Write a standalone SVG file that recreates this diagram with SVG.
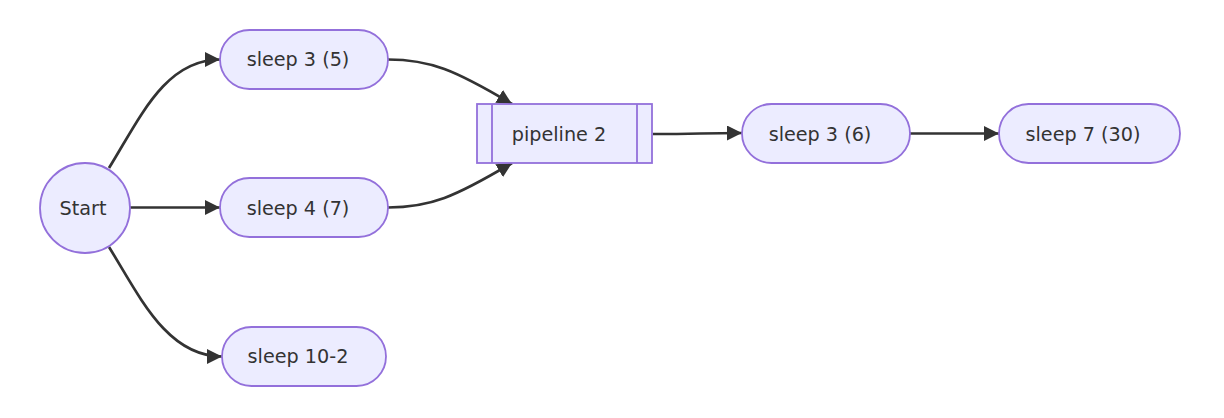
<svg xmlns="http://www.w3.org/2000/svg" width="1224" height="418" viewBox="0 0 1224 418">
<defs>
<style>
.node rect,.node circle{fill:#ECECFF;stroke:#9370DB;stroke-width:1.8}
.node line{stroke:#9370DB;stroke-width:1.8}
.label{font-family:"DejaVu Sans",Verdana,sans-serif;font-size:19.2px;fill:#333333;text-anchor:middle}
.edge{fill:none;stroke:#333333;stroke-width:2.7;marker-end:url(#arrow)}
</style>
<marker id="arrow" viewBox="0 0 10 10" refX="10" refY="5" markerUnits="userSpaceOnUse" markerWidth="15" markerHeight="15" orient="auto">
<path d="M0,0 L10,5 L0,10 z" fill="#333333"/>
</marker>
</defs>
<rect width="1224" height="418" fill="#ffffff"/>
<g id="connectors">
<path class="edge" d="M109,168 C140,118 165,59.5 220,59.5"/>
<path class="edge" d="M130,207.5 L220,207.5"/>
<path class="edge" d="M109,247 C140,297 167,356.5 222,356.5"/>
<path class="edge" d="M388,59.5 C430,59.5 455,70 512,104"/>
<path class="edge" d="M388,207.5 C430,207.5 455,197 512,163"/>
<path class="edge" d="M653,134 C700,134 700,133 742,133"/>
<path class="edge" d="M910,133.5 L999,133.5"/>
</g>
<g id="start" class="node">
<circle cx="85" cy="208" r="45"/>
<text class="label" x="83" y="215">Start</text>
</g>
<g id="sleep35" class="node">
<rect x="220" y="30" width="168" height="59" rx="29.5" ry="29.5"/>
<text class="label" x="298" y="66">sleep 3 (5)</text>
</g>
<g id="sleep47" class="node">
<rect x="220" y="178" width="168" height="59" rx="29.5" ry="29.5"/>
<text class="label" x="298" y="214.5">sleep 4 (7)</text>
</g>
<g id="sleep102" class="node">
<rect x="222" y="327" width="164" height="59" rx="29.5" ry="29.5"/>
<text class="label" x="298" y="363">sleep 10-2</text>
</g>
<g id="pipeline2" class="node">
<rect x="477" y="104" width="175" height="59"/>
<line x1="492" y1="104" x2="492" y2="163"/>
<line x1="637" y1="104" x2="637" y2="163"/>
<text class="label" x="559" y="140.5">pipeline 2</text>
</g>
<g id="sleep36" class="node">
<rect x="742" y="104" width="168" height="59" rx="29.5" ry="29.5"/>
<text class="label" x="820" y="140.5">sleep 3 (6)</text>
</g>
<g id="sleep730" class="node">
<rect x="999" y="104" width="181" height="59" rx="29.5" ry="29.5"/>
<text class="label" x="1083" y="140.5">sleep 7 (30)</text>
</g>
</svg>
